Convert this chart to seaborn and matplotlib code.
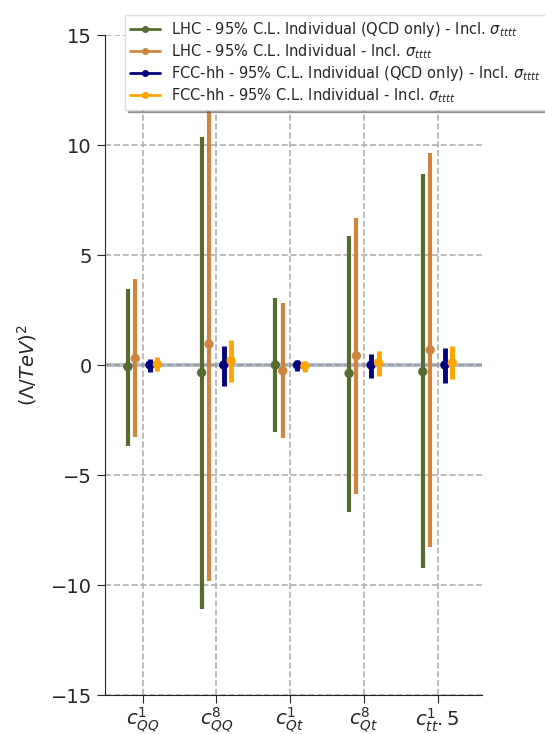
import numpy as np
import pandas as pd
import matplotlib
matplotlib.use("Agg")
import matplotlib.pyplot as plt
import seaborn as sns
from matplotlib.lines import Line2D

coefficients = [r"$c_{QQ}^{1}$", r"$c_{QQ}^{8}$", r"$c_{Qt}^{1}$", r"$c_{Qt}^{8}$", r"$c_{tt}^{1}.5$"]
series = [
    r"LHC - 95% C.L. Individual (QCD only) - Incl. $\sigma_{tttt}$",
    r"LHC - 95% C.L. Individual - Incl. $\sigma_{tttt}$",
    r"FCC-hh - 95% C.L. Individual (QCD only) - Incl. $\sigma_{tttt}$",
    r"FCC-hh - 95% C.L. Individual - Incl. $\sigma_{tttt}$",
]
colors = ["darkolivegreen", "peru", "navy", "orange"]

# central values
lhc_qcd_c = [-0.08, -0.35, 0.0, -0.38, -0.30]
lhc_all_c = [0.30, 0.95, -0.26, 0.42, 0.68]
fcc_qcd_c = [0.0, 0.0, 0.0, 0.0, 0.0]
fcc_all_c = [0.03, 0.20, -0.05, 0.10, 0.10]
# lower bounds
lhc_qcd_lo = [-3.68, -11.09, -3.06, -6.67, -9.24]
lhc_all_lo = [-3.26, -9.82, -3.33, -5.88, -8.29]
fcc_qcd_lo = [-0.30, -0.95, -0.26, -0.58, -0.80]
fcc_all_lo = [-0.26, -0.76, -0.30, -0.49, -0.65]
# upper bounds
lhc_qcd_hi = [3.44, 10.38, 3.06, 5.88, 8.67]
lhc_all_hi = [3.90, 11.74, 2.82, 6.70, 9.62]
fcc_qcd_hi = [0.29, 0.88, 0.23, 0.50, 0.76]
fcc_all_hi = [0.35, 1.14, 0.20, 0.64, 0.88]

centers = [lhc_qcd_c, lhc_all_c, fcc_qcd_c, fcc_all_c]
lows = [lhc_qcd_lo, lhc_all_lo, fcc_qcd_lo, fcc_all_lo]
highs = [lhc_qcd_hi, lhc_all_hi, fcc_qcd_hi, fcc_all_hi]
offsets = [-0.2, -0.1, 0.1, 0.2]
widths = [3.0, 3.0, 3.5, 3.5]

rows = []
for s, name in enumerate(series):
    for i in range(len(coefficients)):
        rows.append(dict(series=name, x=i + offsets[s], c=centers[s][i],
                         lo=lows[s][i], hi=highs[s][i]))
df = pd.DataFrame(rows)

sns.set_style("ticks")
plt.rcParams["font.family"] = ["DejaVu Sans"]
fig = plt.figure(figsize=(5.45, 7.34), dpi=100)
ax = fig.add_axes([0.1927, 0.0531, 0.884 - 0.1927, 0.9523 - 0.0531])

ax.axhline(0, color="lightslategray", alpha=0.5, lw=3, zorder=1)
ax.grid(True, ls="--", color="#b0b0b0", lw=1.2, zorder=0)
ax.set_axisbelow(True)

for s, name in enumerate(series):
    sub = df[df.series == name]
    ax.vlines(sub.x, sub.lo, sub.hi, color=colors[s], lw=widths[s], zorder=3)
sns.scatterplot(data=df, x="x", y="c", hue="series", palette=colors,
                s=45, edgecolor="none", legend=False, ax=ax, zorder=4)

ax.set_xticks(range(len(coefficients)))
ax.set_xticklabels(coefficients, fontsize=14)
ax.set_xlim(-0.51, 4.6)
ax.set_ylim(-15, 15)
ax.set_yticks([-15, -10, -5, 0, 5, 10, 15])
ax.tick_params(axis="y", labelsize=14, length=6)
ax.tick_params(axis="x", length=6, pad=2)
ax.set_xlabel("")
ax.set_ylabel(r"$(\Lambda/TeV)^2$", fontsize=14, labelpad=8)
sns.despine(ax=ax)

handles = [Line2D([0], [0], color=c, marker="o", ms=4, lw=2) for c in colors]
leg = fig.legend(handles, series, loc="upper left", bbox_to_anchor=(118 / 545, 1 - 8 / 734),
                 fontsize=10.5, shadow=True, fancybox=False, framealpha=1,
                 handlelength=2.0, labelspacing=0.2, borderpad=0.35)
leg.get_frame().set_edgecolor("#dddddd")

fig.savefig("out.png", dpi=100)
